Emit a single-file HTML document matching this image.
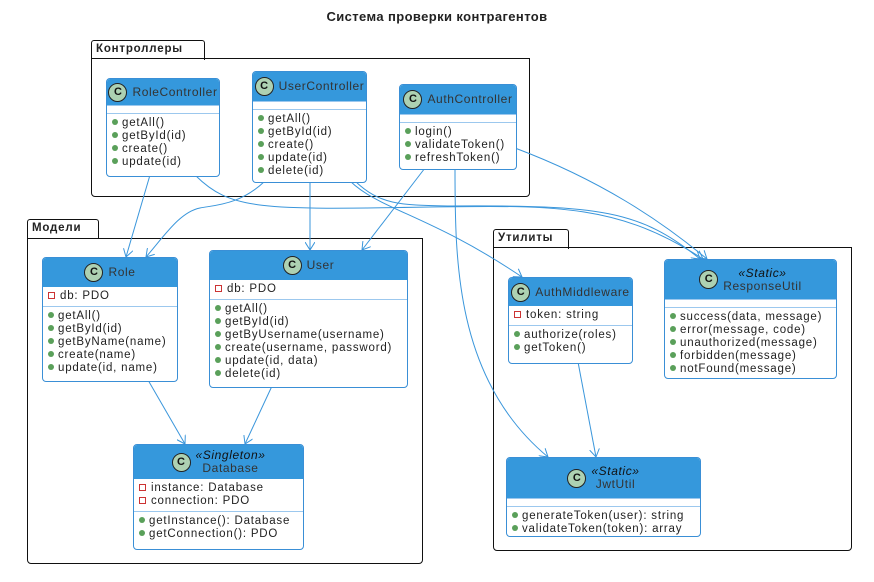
<!DOCTYPE html>
<html><head><meta charset="utf-8"><style>
body{margin:0;width:874px;height:582px;background:#fff;position:relative;overflow:hidden;font-family:"Liberation Sans","DejaVu Sans",sans-serif;color:#222}
.t{position:absolute;left:0;width:874px;top:9px;text-align:center;font-weight:bold;font-size:13px;letter-spacing:.4px}
.pk{position:absolute;border:1.5px solid #111;border-radius:0 0 4px 4px}
.tab{position:absolute;border:1.5px solid #111;border-bottom:none;border-radius:3px 3px 0 0;font-weight:bold;font-size:11.5px;padding:2px 4px;background:#fff;letter-spacing:.8px}
.c{position:absolute;border:1px solid #3a8fd6;border-radius:4px;background:#fff;font-size:11.5px;line-height:13px;letter-spacing:.8px;white-space:nowrap}
.h{background:#3598dc;color:#333;display:flex;align-items:center;justify-content:center;border-radius:3px 3px 0 0;font-size:12px;text-align:center;line-height:13px;letter-spacing:.6px}
.ci{width:19px;height:19px;border-radius:50%;background:#add1b2;border:1px solid #222;box-sizing:border-box;display:inline-flex;align-items:center;justify-content:center;font-weight:bold;font-size:11px;color:#111;margin-right:5px;flex:none;letter-spacing:0}
.s{border-top:1px solid #9cc8ee;padding:3px 0 3px 5px}
.m::before{content:"";display:inline-block;width:6px;height:6px;border-radius:50%;background:#5aa05a;margin-right:4px;vertical-align:1px}
.f::before{content:"";display:inline-block;width:5px;height:5px;border:1px solid #c33;margin-right:5px;vertical-align:0px}
.e{border-top:1px solid #9cc8ee;height:7px}
i{font-style:italic;color:#111}
</style></head><body>
<div class="t">Система проверки контрагентов</div>

<div class="tab" style="left:91px;top:40px;width:104px;height:15px">Контроллеры</div>
<div class="pk" style="left:91px;top:58px;width:437px;height:137px"></div>
<div class="tab" style="left:27px;top:219px;width:62px;height:15px">Модели</div>
<div class="pk" style="left:27px;top:238px;width:394px;height:324px"></div>
<div class="tab" style="left:493px;top:229px;width:66px;height:15px">Утилиты</div>
<div class="pk" style="left:493px;top:247px;width:357px;height:302px"></div>

<svg style="position:absolute;left:0;top:0" width="874" height="582" fill="none" stroke="#3a96db" stroke-width="1">
<defs><marker id="a" markerWidth="10" markerHeight="10" refX="8" refY="5" orient="auto" markerUnits="userSpaceOnUse"><path d="M0,0 L8,5 L0,10 M8,5" stroke="#3a96db" fill="none"/></marker></defs>
<path d="M150,175 L126,257" marker-end="url(#a)"/>
<path d="M195,175 C230,210 260,210 430,207 C560,205 620,205 703,259" marker-end="url(#a)"/>
<path d="M265,181 C240,205 215,205 200,208 C180,212 165,235 146,257" marker-end="url(#a)"/>
<path d="M310,181 L310,250" marker-end="url(#a)"/>
<path d="M350,181 C380,210 430,215 522,277" marker-end="url(#a)"/>
<path d="M355,181 C380,205 400,205 450,206 C600,205 640,210 700,259" marker-end="url(#a)"/>
<path d="M425,168 L362,250" marker-end="url(#a)"/>
<path d="M455,168 C455,260 455,380 548,457" marker-end="url(#a)"/>
<path d="M515,148 C600,180 660,220 707,259" marker-end="url(#a)"/>
<path d="M148,380 L185,444" marker-end="url(#a)"/>
<path d="M272,386 L245,444" marker-end="url(#a)"/>
<path d="M578,362 L596,457" marker-end="url(#a)"/>
</svg>

<div class="c" style="left:106px;top:78px;width:112px;height:97px"><div class="h" style="height:26px"><span class="ci">C</span>RoleController</div><div class="e"></div><div class="s"><div class="m">getAll()</div><div class="m">getById(id)</div><div class="m">create()</div><div class="m">update(id)</div></div></div>

<div class="c" style="left:252px;top:71px;width:113px;height:110px"><div class="h" style="height:29px"><span class="ci">C</span>UserController</div><div class="e"></div><div class="s"><div class="m">getAll()</div><div class="m">getById(id)</div><div class="m">create()</div><div class="m">update(id)</div><div class="m">delete(id)</div></div></div>

<div class="c" style="left:399px;top:84px;width:116px;height:84px"><div class="h" style="height:29px"><span class="ci">C</span>AuthController</div><div class="e"></div><div class="s"><div class="m">login()</div><div class="m">validateToken()</div><div class="m">refreshToken()</div></div></div>

<div class="c" style="left:42px;top:257px;width:134px;height:123px"><div class="h" style="height:29px"><span class="ci">C</span>Role</div><div class="s" style="border:none"><div class="f">db: PDO</div></div><div class="s"><div class="m">getAll()</div><div class="m">getById(id)</div><div class="m">getByName(name)</div><div class="m">create(name)</div><div class="m">update(id, name)</div></div></div>

<div class="c" style="left:209px;top:250px;width:197px;height:136px"><div class="h" style="height:29px"><span class="ci">C</span>User</div><div class="s" style="border:none"><div class="f">db: PDO</div></div><div class="s"><div class="m">getAll()</div><div class="m">getById(id)</div><div class="m">getByUsername(username)</div><div class="m">create(username, password)</div><div class="m">update(id, data)</div><div class="m">delete(id)</div></div></div>

<div class="c" style="left:133px;top:444px;width:169px;height:104px"><div class="h" style="height:34px"><span class="ci">C</span><span><i>«Singleton»</i><br>Database</span></div><div class="s" style="border:none"><div class="f">instance: Database</div><div class="f">connection: PDO</div></div><div class="s"><div class="m">getInstance(): Database</div><div class="m">getConnection(): PDO</div></div></div>

<div class="c" style="left:508px;top:277px;width:123px;height:85px"><div class="h" style="height:28px"><span class="ci">C</span>AuthMiddleware</div><div class="s" style="border:none"><div class="f">token: string</div></div><div class="s"><div class="m">authorize(roles)</div><div class="m">getToken()</div></div></div>

<div class="c" style="left:664px;top:259px;width:171px;height:118px"><div class="h" style="height:39px"><span class="ci">C</span><span><i>«Static»</i><br>ResponseUtil</span></div><div class="e"></div><div class="s"><div class="m">success(data, message)</div><div class="m">error(message, code)</div><div class="m">unauthorized(message)</div><div class="m">forbidden(message)</div><div class="m">notFound(message)</div></div></div>

<div class="c" style="left:506px;top:457px;width:193px;height:78px"><div class="h" style="height:40px"><span class="ci">C</span><span><i>«Static»</i><br>JwtUtil</span></div><div class="e"></div><div class="s"><div class="m">generateToken(user): string</div><div class="m">validateToken(token): array</div></div></div>
</body></html>
